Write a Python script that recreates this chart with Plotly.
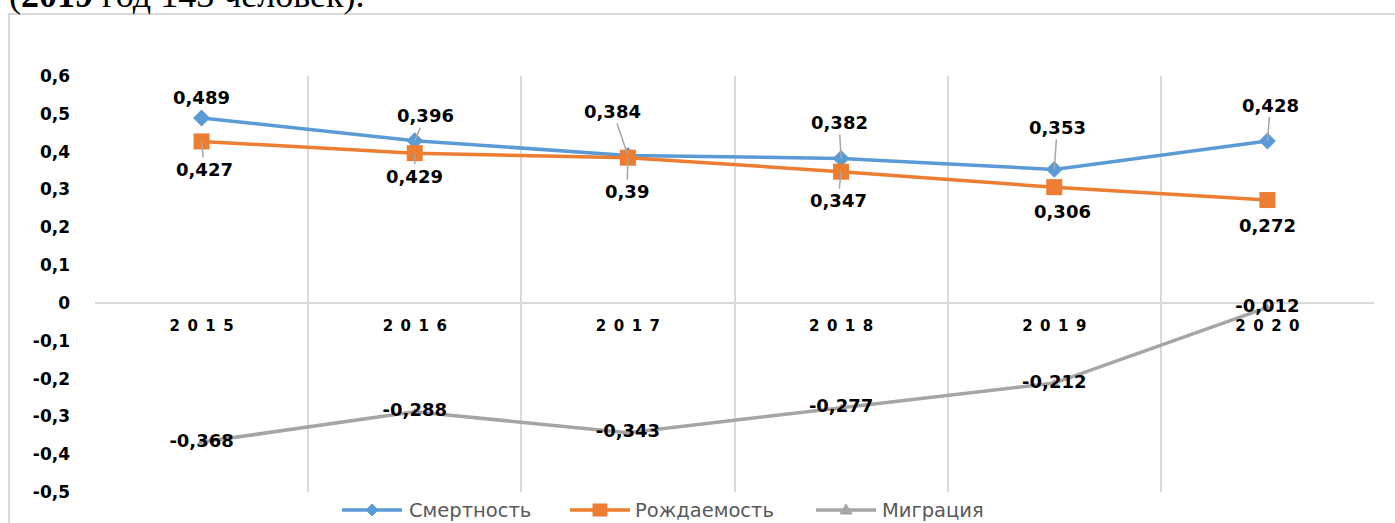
import plotly.graph_objects as go

years = ["2015", "2016", "2017", "2018", "2019", "2020"]
year_labels = ["2\u20020\u20021\u20025", "2\u20020\u20021\u20026", "2\u20020\u20021\u20027",
               "2\u20020\u20021\u20028", "2\u20020\u20021\u20029", "2\u20020\u20022\u20020"]
mortality = [0.489, 0.429, 0.39, 0.382, 0.353, 0.428]
mortality_labels = ["0,489", "0,396", "0,384", "0,382", "0,353", "0,428"]
birth = [0.427, 0.396, 0.384, 0.347, 0.306, 0.272]
birth_labels = ["0,427", "0,429", "0,39", "0,347", "0,306", "0,272"]
migration = [-0.368, -0.288, -0.343, -0.277, -0.212, -0.012]
migration_labels = ["-0,368", "-0,288", "-0,343", "-0,277", "-0,212", "-0,012"]
y_ticks = [-0.5, -0.4, -0.3, -0.2, -0.1, 0, 0.1, 0.2, 0.3, 0.4, 0.5, 0.6]
y_tick_labels = ["-0,5", "-0,4", "-0,3", "-0,2", "-0,1", "0", "0,1", "0,2", "0,3", "0,4", "0,5", "0,6"]
series_names = ["Смертность", "Рождаемость", "Миграция"]

# label placement (pixel offsets of label centre from the point)
m_off = [(0, -20), (11, -25), (-15, -44), (-2, -36), (3, -42), (3, -36)]
m_arrow = [False, True, True, True, True, True]
b_off = [(3, 28), (0, 23), (-1, 34), (-3, 29), (8, 24), (0, 25)]
b_arrow = [True, True, True, True, False, False]

BLUE, ORANGE, GRAY = "#5b9bd5", "#ed7d31", "#a5a5a5"
LBL_FONT = dict(family="DejaVu Sans", size=18, color="#000000", weight="bold")

# plot-area geometry in pixels
L, R, T, B = 95, 1374, 76, 492
W, H = R - L, B - T


def px(xp):
    return (xp - L) / W


def py(yp):
    return (B - yp) / H


fig = go.Figure()
fig.add_trace(go.Scatter(x=years, y=mortality, name=series_names[0], mode="lines+markers",
                         line=dict(color=BLUE, width=3.5),
                         marker=dict(symbol="diamond", size=13, color=BLUE)))
fig.add_trace(go.Scatter(x=years, y=birth, name=series_names[1], mode="lines+markers",
                         line=dict(color=ORANGE, width=3.5),
                         marker=dict(symbol="square", size=16, color=ORANGE)))
fig.add_trace(go.Scatter(x=years, y=migration, name=series_names[2], mode="lines+markers+text",
                         line=dict(color=GRAY, width=3.5),
                         marker=dict(symbol="triangle-up", size=8, color=GRAY),
                         text=migration_labels, textposition="middle center",
                         textfont=LBL_FONT))

annotations = []
for ys, labs, offs, arrows in [(mortality, mortality_labels, m_off, m_arrow),
                               (birth, birth_labels, b_off, b_arrow)]:
    for i, (y, t, (dx, dy), a) in enumerate(zip(ys, labs, offs, arrows)):
        if a:
            annotations.append(dict(x=i, y=y, xref="x", yref="y", text=t, showarrow=True,
                                    ax=dx, ay=dy, arrowhead=0, arrowwidth=1.5,
                                    arrowcolor="#a6a6a6", standoff=0, font=LBL_FONT))
        else:
            annotations.append(dict(x=i, y=y, xref="x", yref="y", text=t, showarrow=False,
                                    xshift=dx, yshift=-dy, font=LBL_FONT))

# cropped heading text above the chart frame
annotations.append(dict(x=px(7), y=py(-4.5), xref="paper", yref="paper",
                        xanchor="left", yanchor="middle", showarrow=False,
                        text="(<b>2019</b> год 143 человек).",
                        font=dict(family="Liberation Serif", size=36, color="#000000")))

# custom legend (line + marker + text)
shapes = [dict(type="rect", xref="paper", yref="paper",
               x0=px(9), x1=px(1420), y0=py(560), y1=py(14),
               line=dict(color="#d9d9d9", width=2), fillcolor="rgba(0,0,0,0)", layer="below")]
leg_y = 510
leg_items = [(342, 407, BLUE, "diamond"), (570, 633, ORANGE, "square"), (816, 880, GRAY, "triangle")]
for (x0, tx, col, sym), name in zip(leg_items, series_names):
    shapes.append(dict(type="line", xref="paper", yref="paper", x0=px(x0), x1=px(x0 + 60),
                       y0=py(leg_y), y1=py(leg_y), line=dict(color=col, width=3.5)))
    cx = x0 + 30
    if sym == "diamond":
        path = f"M{px(cx-6)},{py(leg_y)} L{px(cx)},{py(leg_y-6)} L{px(cx+6)},{py(leg_y)} L{px(cx)},{py(leg_y+6)} Z"
    elif sym == "square":
        path = f"M{px(cx-7)},{py(leg_y-6)} L{px(cx+7)},{py(leg_y-6)} L{px(cx+7)},{py(leg_y+6)} L{px(cx-7)},{py(leg_y+6)} Z"
    else:
        path = f"M{px(cx-6)},{py(leg_y+4)} L{px(cx)},{py(leg_y-6)} L{px(cx+6)},{py(leg_y+4)} Z"
    shapes.append(dict(type="path", xref="paper", yref="paper", path=path,
                       fillcolor=col, line=dict(color=col, width=1)))
    annotations.append(dict(x=px(tx), y=py(leg_y), xref="paper", yref="paper",
                            xanchor="left", yanchor="middle", showarrow=False, text=name,
                            font=dict(family="DejaVu Sans", size=19.5, color="#595959")))

fig.update_layout(
    width=1395, height=523,
    margin=dict(l=L, r=1395 - R, t=T, b=523 - B, autoexpand=False, pad=0),
    paper_bgcolor="white", plot_bgcolor="white",
    showlegend=False,
    annotations=annotations,
    shapes=shapes,
)
fig.update_xaxes(type="category", range=[-0.5, 5.5], tickson="boundaries",
                 tickvals=years, ticktext=year_labels,
                 showgrid=True, gridcolor="#d9d9d9", gridwidth=1.5,
                 showline=False, ticks="", anchor="free", position=0.5 / 1.1,
                 ticklabelstandoff=12,
                 tickfont=dict(family="DejaVu Sans", size=15, color="#000000", weight="bold"))
fig.update_yaxes(range=[-0.5, 0.6], tickvals=y_ticks, ticktext=y_tick_labels,
                 showgrid=False, zeroline=True, zerolinecolor="#d9d9d9", zerolinewidth=1.5,
                 showline=False, ticks="", ticklabelstandoff=24,
                 tickfont=dict(family="DejaVu Sans", size=17, color="#000000", weight="bold"))

fig.write_html("out.html", config={"displayModeBar": False},
               post_script="document.body.style.margin='0px';document.body.style.overflow='hidden';")
